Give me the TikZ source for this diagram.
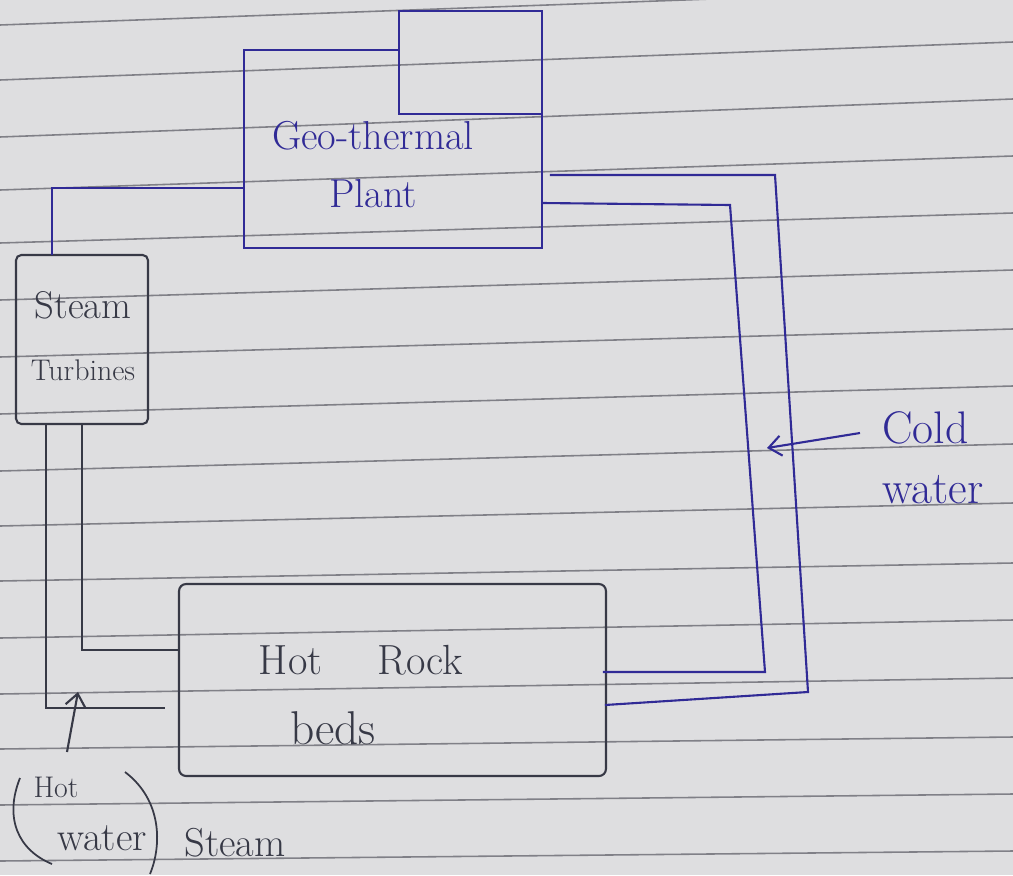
\documentclass[tikz,border=0pt]{standalone}
\usepackage{fontspec}
\usetikzlibrary{positioning,arrows.meta,calc}
\definecolor{ink}{RGB}{48,42,150}
\definecolor{pencil}{RGB}{55,57,70}
\definecolor{paper}{RGB}{222,222,224}
\definecolor{ruling}{RGB}{128,128,135}

\begin{document}
\begin{tikzpicture}[>={Straight Barb[length=2.5mm,width=4mm]}, x=0.02cm, y=-0.02cm,
  box/.style={draw, rectangle, inner sep=0pt, outer sep=0pt, line width=1.2pt},
  pipe/.style={line width=1.2pt},
  hand/.style={inner sep=0pt, text=pencil}]
  \useasboundingbox (0,0) rectangle (1013,875);
  % the ruled paper
  \fill[paper] (0,0) rectangle (1013,875);
  \foreach \a/\b in {25/-12, 80/42, 137/99, 190/156, 243/213, 300/270, 357/329, 414/386,
                     471/444, 526/503, 581/563, 638/620, 694/678, 749/737, 805/794, 861/851}
    \draw[ruling, line width=0.9pt] (0,\a) -- (1013,\b);

  % boxes
  \node[box, draw=none, minimum width=5.96cm, minimum height=3.96cm] (plant) at (393,149) {};
  \node[box, draw=ink, minimum width=2.86cm, minimum height=2.06cm] (tower) at (470.5,62.5) {};
  \draw[pipe, ink] (plant.north -| tower.west) -- (plant.north west) -- (plant.south west)
    -- (plant.south east) -- (plant.east |- tower.south);
  \node[box, draw=pencil, rounded corners=3pt, minimum width=2.64cm, minimum height=3.38cm] (turb) at (82,339.5) {};
  \node[box, draw=pencil, rounded corners=4pt, minimum width=8.54cm, minimum height=3.84cm] (rock) at (392.5,680) {};

  % labels
  \node[hand, text=ink, align=center, font=\fontsize{23}{33}\selectfont] (plantlbl) at (373,165) {Geo-thermal\\Plant};
  \node[hand, align=center, font=\fontsize{17}{35}\selectfont] (turblbl) at (83,336) {{\fontsize{22}{35}\selectfont Steam}\\Turbines};
  \node[hand, font=\fontsize{24}{28}\selectfont] (rocklbl) at (361,660) {Hot\hspace{1.1cm}Rock};
  \node[hand, font=\fontsize{27}{30}\selectfont] (bedslbl) at (333,728) {beds};
  \node[hand, text=ink, align=left, anchor=west, font=\fontsize{26}{34}\selectfont] (coldlbl) at (882,458) {Cold\\water};
  \node[hand, font=\fontsize{17}{20}\selectfont] (hotlbl) at (56,787) {Hot};
  \node[hand, font=\fontsize{23}{26}\selectfont] (waterlbl) at (102,838) {water};
  \node[hand, font=\fontsize{23}{26}\selectfont] (steamlbl) at (235,843) {Steam};
  \draw[pencil, line width=1pt] (20,778) .. controls (4,818) and (18,850) .. (52,864);
  \draw[pencil, line width=1pt] (125,772) .. controls (162,800) and (162,845) .. (150,874);

  % pipes
  \draw[pipe, ink] ($(turb.north west)+(36,0)$) |- ($(plant.west)+(0,39)$);
  \draw[pipe, pencil] ($(turb.south west)+(30,0)$) |- ($(rock.west)+(-14,28)$);
  \draw[pipe, pencil] ($(turb.south west)+(66,0)$) |- ($(rock.west)+(0,-30)$);
  \coordinate (oa) at (775,175); \coordinate (ob) at (808,692);
  \coordinate (ia) at (730,205); \coordinate (ib) at (765,672);
  \draw[pipe, ink] ($(plant.east)+(8,26)$) -- (oa) -- (ob) -- ($(rock.east)+(-1,25)$);
  \draw[pipe, ink] ($(plant.east)+(0,54)$) -- (ia) -- (ib) -- ($(rock.east)+(-3,-8)$);

  % arrows
  \coordinate (cw) at (860,433); \coordinate (cwtip) at (767,448);
  \draw[->, pipe, ink] (cw) -- (cwtip);
  \coordinate (hw) at (67,752); \coordinate (hwtip) at (78,692);
  \draw[->, pipe, pencil] (hw) -- (hwtip);
\end{tikzpicture}
\end{document}
